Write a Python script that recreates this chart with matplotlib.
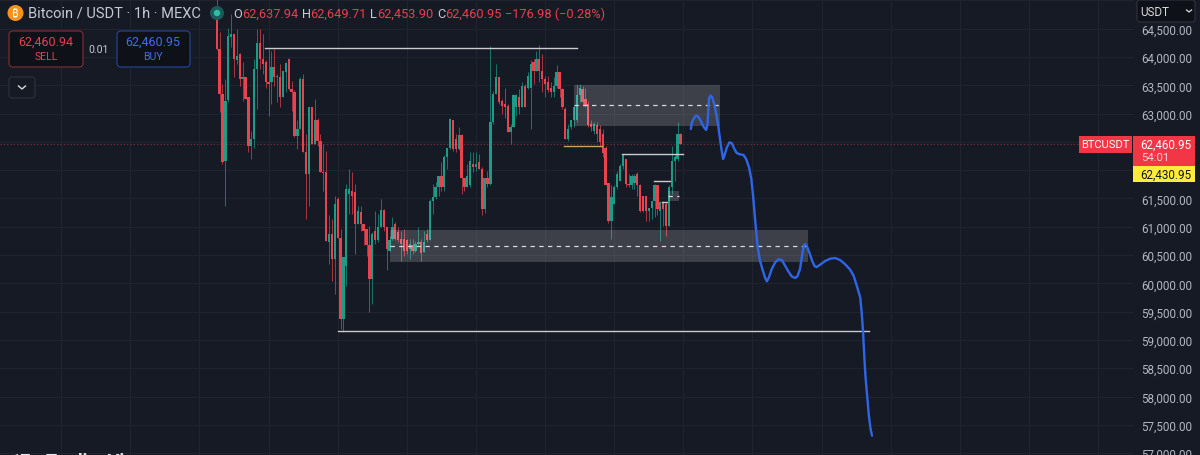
import matplotlib
matplotlib.use('Agg')
import matplotlib.pyplot as plt
from matplotlib.patches import Rectangle, Circle, FancyBboxPatch
from matplotlib.ticker import FuncFormatter, MultipleLocator

plt.rcParams['font.family'] = ['Roboto', 'DejaVu Sans']

# hourly candles
opens = [64730,64140,63350,62170,63240,64350,64410,63940,64050,63610,
         63640,63290,62430,62550,63790,64240,63960,63910,63550,63550,
         63820,63640,63640,63290,63730,63960,63430,63380,62610,62730,
         63610,62320,61930,63110,62460,62880,62520,61960,61960,60730,
         60870,60430,61490,60810,59370,60310,61580,61640,61610,61050,
         61260,61050,60960,60670,60080,60930,60760,60990,61290,60990,
         60580,60780,61050,60900,60780,60780,60760,60610,60670,60580,
         60700,60730,60550,60870,60760,61460,61520,61700,61890,61700,
         62230,62400,62890,62550,62370,62620,61870,61700,61730,62110,
         62050,62140,62020,61310,61870,61760,62850,63350,63640,63230,
         63170,63140,62670,62760,63110,63290,63110,63490,63460,63460,
         63910,63760,63970,63760,63610,63550,63460,63380,63490,63730,
         63430,63080,62550,62760,62880,62880,63320,63430,63260,63170,
         62820,62700,62790,62730,62640,62400,61780,61110,61400,61700,
         61810,62080,62190,61760,61730,61780,61930,61730,61550,61540,
         61280,61340,61460,61730,61280,61430,61400,61020,61700,62170,
         62200,62637.94]
closes = [64140,63350,62140,63230,64380,64410,63960,64020,63610,63640,
          63260,62430,62550,63790,64240,63960,63880,63550,63520,63820,
          63640,63660,63290,63760,63890,63430,63380,62610,62730,63610,
          62320,61930,63110,62460,62880,62520,61960,61950,60750,60870,
          60430,61400,60810,59370,60460,61670,61670,61550,61050,61270,
          61050,60930,60670,60080,60870,60760,60990,61290,60990,60610,
          60760,60990,60780,60760,60700,60580,60580,60700,60580,60700,
          60730,60540,60730,60760,61460,61520,61700,61890,61700,62230,
          62400,62910,62370,62370,62620,61870,61700,61900,62170,62050,
          62110,62020,61310,61870,61760,62850,63350,63640,63200,63140,
          63110,62670,62760,63320,63320,63110,63490,63110,63670,63880,
          63760,63970,63760,63610,63520,63410,63380,63490,63730,63430,
          63110,62550,62730,62880,63110,63320,63460,63200,63140,62790,
          62760,62820,62640,62490,62300,61730,61110,61520,61700,61930,
          62080,62260,61760,61730,61900,61900,61730,61280,61280,61280,
          61340,61460,61730,61310,61430,61310,61020,61700,62170,62230,
          62640,62460.95]
highs = [65020,64440,63530,63610,64520,64760,64410,64500,64070,63910,
         63640,63290,62700,63970,64500,64500,64410,63940,64140,64110,
         64140,63700,63880,63760,63910,63990,63580,63410,62880,63640,
         63700,62640,63110,63110,63260,62930,62640,62460,62340,61200,
         61140,61550,61520,60960,60460,61760,62020,61960,61760,61370,
         61370,61050,60960,61020,60900,61270,61230,61490,61310,60990,
         60840,61180,61080,60990,60930,60960,60780,60780,60780,60750,
         60990,60780,60930,60960,61490,61760,61790,61900,62140,62260,
         62400,62930,62890,62640,62760,62640,61870,62110,62320,62320,
         62320,62290,62050,61870,61990,64190,63400,63880,63640,63260,
         63460,63170,62820,63350,63350,63430,63550,63520,63730,63940,
         63970,64110,64210,64050,63670,63670,63550,63640,63850,63730,
         63460,63110,62820,62880,63140,63520,63520,63490,63460,63230,
         62880,62850,62850,62790,62730,62430,61780,61730,61730,61990,
         62110,62290,62200,61930,61930,61930,61960,61750,61550,61550,
         61340,61460,61750,61730,61460,61460,61430,61730,62430,62260,
         62850,62649.71]
lows = [64120,63020,62110,61370,63200,64170,63640,63880,63490,63230,
        63260,62320,62200,62400,63080,63790,63700,63460,62960,63170,
        63490,63200,63110,63290,63380,63410,63050,62580,62370,62730,
        62320,61140,61370,62460,62460,62430,61960,61640,60750,60340,
        60050,59810,60810,59190,59140,59960,61230,61230,60520,61050,
        60930,60670,60490,59490,59640,60700,60730,60990,60930,60230,
        60580,60760,60760,60730,60400,60490,60520,60430,60520,60550,
        60670,60400,60550,60730,60760,61230,61490,61550,61640,61640,
        62020,62370,62340,62320,62350,61580,61640,61700,61700,61960,
        61990,62020,61200,61250,61700,61730,62820,63340,63170,62990,
        62930,62670,62460,62760,62960,62990,63110,63110,63430,62730,
        63520,63760,63550,63380,63290,63380,63290,63290,63460,63290,
        63080,62550,62520,62730,62760,62850,63200,63140,63110,62760,
        62700,62640,62490,62430,62230,61730,61060,60780,61400,61670,
        61810,62020,61700,61700,61670,61670,61550,61260,61260,61110,
        61110,61140,61170,61200,60750,61020,60840,61020,61580,61810,
        62170,62453.90]

# hand drawn projection
path_x = [164.6,164.9,165.5,166.4,167.2,168.0,169.0,169.9,170.4,170.7,170.9,171.4,172.0,172.7,173.4,
          174.1,174.8,175.3,175.8,176.3,177.1,178.0,178.8,179.6,180.5,181.7,182.9,183.8,184.8,185.6,
          186.2,186.8,187.3,187.8,188.6,189.6,190.4,191.0,191.7,192.7,193.9,195.0,196.2,197.3,198.5,
          199.6,200.8,201.6,202.5,203.2,203.7,204.1,204.8,205.8,206.7,207.6,208.3,209.5,211.2,213.0,
          214.7,216.4,218.2,219.9,221.1,222.2,223.4,223.9,224.4,224.8,225.2,225.8,226.4,227.0,227.5]
path_y = [62727,62834,62904,62963,62945,62875,62769,62710,62816,63110,63269,63317,63287,63169,62993,
          62786,62521,62345,62197,62268,62403,62492,62480,62386,62303,62280,62268,62197,62050,61844,
          61550,61196,60902,60636,60401,60224,60095,60036,60106,60254,60372,60425,60413,60313,60207,
          60124,60095,60124,60254,60489,60636,60695,60666,60536,60401,60301,60289,60330,60395,60436,
          60448,60413,60336,60242,60136,59959,59753,59488,59135,58722,58369,58015,57662,57426,57309]

# drawings: (x0, x1, price)
white_levels = [(16.8, 125.1, 64159), (42.1, 226.5, 59158), (140.7, 161.9, 62286),
                (151.8, 157.5, 61809), (154.5, 156.3, 61438)]
orange_level = (120.6, 133.8, 62427)
# (x0, x1, top, bottom, mid)
zones = [(124.0, 174.8, 63505, 62781, 63152),
         (60.2, 205.3, 60943, 60378, 60669),
         (156.7, 160.5, 61632, 61456, 61544)]

hidden_ticks = [62000, 62500, 65000]  # sit under the price tags and the currency box
last_price = 62460.95
BG = '#161a25'
RED = '#e8434f'
GREEN = '#1b9c87'
TXT = '#b4b7c0'

fig = plt.figure(figsize=(12, 4.56), dpi=100, facecolor=BG)
ax = fig.add_axes([0, 0, 1133 / 1200, 1], facecolor=BG)
ax.set_xlim(-75.24, 318.1)
ax.set_ylim(56967, 65025)

# grid
ax.xaxis.set_major_locator(MultipleLocator(24, offset=18))
ax.yaxis.set_major_locator(MultipleLocator(500))
ax.grid(True, color='#20242f', linewidth=0.8)
ax.set_axisbelow(True)
ax.tick_params(axis='x', length=0, labelbottom=False)
ax.yaxis.tick_right()
ax.tick_params(axis='y', length=0, pad=5.8, labelsize=8.4, labelcolor=TXT)
ax.yaxis.set_major_formatter(FuncFormatter(lambda v, p: '' if v in hidden_ticks else f'{v:,.2f}'))
for s in ax.spines.values():
    s.set_visible(False)

# candles
for i in range(len(opens)):
    col = GREEN if closes[i] >= opens[i] else RED
    ax.vlines(i, lows[i], highs[i], color=col, linewidth=0.7, alpha=0.7, zorder=3)
    ax.bar(i, abs(closes[i] - opens[i]), bottom=min(opens[i], closes[i]), width=0.8,
           color=col, linewidth=0, zorder=3.1)

ax.axhline(last_price, color='#7d333c', linewidth=0.8, linestyle=(0, (1, 2)), zorder=2.8)

# zones and levels
for x0, x1, top, bot, mid in zones:
    ax.add_patch(Rectangle((x0, bot), x1 - x0, top - bot, facecolor='white', alpha=0.17,
                           linewidth=0, zorder=4))
    ax.plot([x0, x1], [mid, mid], color='#d8d9dd', linewidth=0.9, linestyle=(0, (3.5, 3.5)), zorder=4.1)
for x0, x1, y in white_levels:
    ax.plot([x0, x1], [y, y], color='#cbccd0', linewidth=1.0, zorder=4.2)
ax.plot(orange_level[:2], [orange_level[2]] * 2, color='#c9a35c', linewidth=1.0, zorder=4.2)

ax.plot(path_x, path_y, color='#2f66e8', linewidth=1.7, solid_joinstyle='round',
        solid_capstyle='round', zorder=5)

# overlay in screen pixels for the terminal's own chrome
ui = fig.add_axes([0, 0, 1, 1], facecolor='none', zorder=10)
ui.set_xlim(0, 1200)
ui.set_ylim(456, 0)
ui.axis('off')


def box(x0, y0, x1, y1, face, edge='none', r=0.0, lw=0.9):
    if r:
        p = FancyBboxPatch((x0 + r, y0 + r), x1 - x0 - 2 * r, y1 - y0 - 2 * r,
                           boxstyle=f'round,pad={r},rounding_size={r}',
                           facecolor=face, edgecolor=edge, linewidth=lw)
    else:
        p = Rectangle((x0, y0), x1 - x0, y1 - y0, facecolor=face, edgecolor=edge, linewidth=lw)
    ui.add_patch(p)


def label(x, y, s, color, size=8.4, ha='left', **kw):
    ui.text(x, y, s, color=color, fontsize=size, ha=ha, va='center', **kw)


# header
ui.add_patch(Circle((15.5, 14), 8, facecolor='#f7931a', edgecolor='none'))
label(15.5, 14, '₿', 'white', size=8, ha='center', family=['Noto Sans', 'Inter', 'Open Sans', 'Lato', 'Roboto'])
label(28, 14, 'Bitcoin / USDT · 1h · MEXC', '#c6c9d1', size=10.5)
ui.add_patch(Circle((217, 14), 7, facecolor='#1d5a5a', edgecolor='none'))
ui.add_patch(Circle((217, 14), 3.2, facecolor='#2ebfa5', edgecolor='none'))
for x, s in [(233, 'O'), (302, 'H'), (370, 'L'), (437, 'C')]:
    label(x, 14, s, '#c6c9d1', size=9.2)
for x, s in [(242, '62,637.94'), (310, '62,649.71'), (377, '62,453.90'), (445, '62,460.95'),
             (505, '−176.98 (−0.28%)')]:
    label(x, 14, s, '#e8404f', size=9.2)

# order buttons
box(9, 32, 83, 68, '#0f1118', '#7a2a33', r=4)
label(46, 42, '62,460.94', '#e8404f', size=9, ha='center')
label(46, 57, 'SELL', '#e8404f', size=7.6, ha='center')
label(99, 50, '0.01', '#c6c9d1', size=7.6, ha='center')
box(117, 32, 190, 68, '#0f1118', '#23418f', r=4)
label(153, 42, '62,460.95', '#3d6fe8', size=9, ha='center')
label(153, 57, 'BUY', '#3d6fe8', size=7.6, ha='center')
box(9, 78, 35, 99, '#161a25', '#2b2f3a', r=3)
ui.plot([18.5, 22, 25.5], [87, 90, 87], color='#d8d9dd', linewidth=1.0)

# currency box, it also hides the top of the 64,500 label
box(1133, 0, 1200, 27, BG)
box(1137, 1, 1195, 23, '#0f1118', '#2b2f3a', r=3)
label(1140, 12, 'USDT', '#d8d9dd', size=8.4)
ui.plot([1186.5, 1189, 1191.5], [11, 13, 11], color='#d8d9dd', linewidth=0.9)

# price tags
box(1079, 137, 1132, 154, '#f23645')
label(1105.5, 145.5, 'BTCUSDT', 'white', size=8, ha='center')
box(1133, 137, 1195, 167, '#f23645')
label(1191, 145, '62,460.95', 'white', size=8.4, ha='right')
label(1141, 158, '54:01', '#ffd0d5', size=8.2)
box(1133, 167, 1195, 183, '#ffeb3b')
label(1191, 175, '62,430.95', '#131722', size=8.4, ha='right')

# watermark, cut by the bottom edge
ui.text(11, 453, '17', color='#e8e8ea', fontsize=13, fontweight='bold', va='top')
ui.text(46, 453, 'TradingView', color='#e8e8ea', fontsize=13, fontweight='bold', va='top')

fig.savefig('out.png', dpi=100, facecolor=BG)
